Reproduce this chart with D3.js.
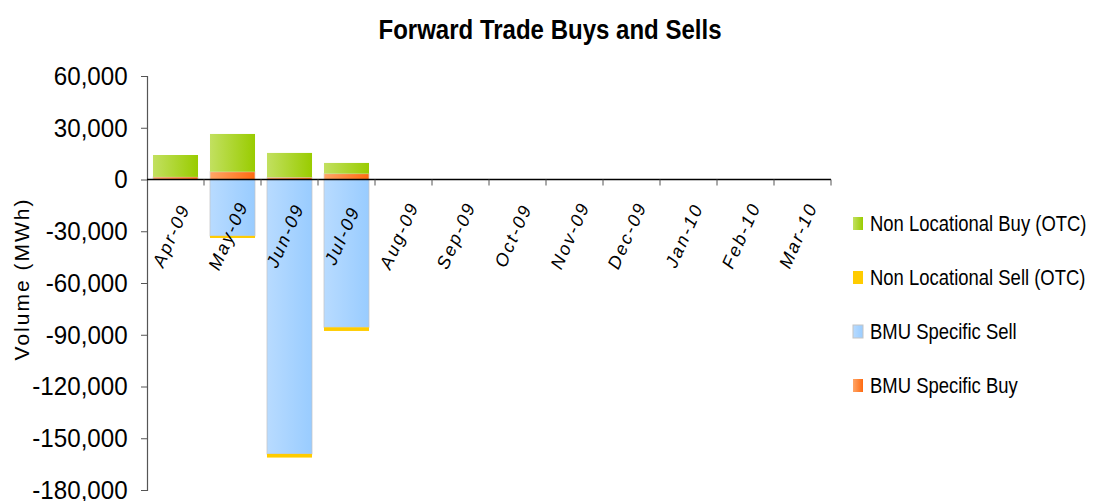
<!doctype html>
<html>
<head>
<meta charset="utf-8">
<style>
  body { margin: 0; background: #fff; }
  svg { font-family: "Liberation Sans Narrow", "Arial Narrow", "Liberation Sans", Arial, sans-serif; }
</style>
<script src="https://d3js.org/d3.v7.min.js"></script>
</head>
<body>
<div id="chart"></div>
<script>
var months = ['Apr-09','May-09','Jun-09','Jul-09','Aug-09','Sep-09','Oct-09','Nov-09','Dec-09','Jan-10','Feb-10','Mar-10']
// positive side, stacked from zero upward
var bmuBuy    = [1500, 4500, 1300, 3400, 0, 0, 0, 0, 0, 0, 0, 0]
var nonLocBuy = [12700, 21900, 14100, 6200, 0, 0, 0, 0, 0, 0, 0, 0]
// negative side, stacked from zero downward
var bmuSell    = [0, -32700, -159100, -85700, 0, 0, 0, 0, 0, 0, 0, 0]
var nonLocSell = [0, -1200, -2100, -2100, 0, 0, 0, 0, 0, 0, 0, 0]
var yTicks = [60000, 30000, 0, -30000, -60000, -90000, -120000, -150000, -180000]
var legendNames = ['Non Locational Buy (OTC)', 'Non Locational Sell (OTC)', 'BMU Specific Sell', 'BMU Specific Buy']

var W = 1094, H = 501
var svg = d3.select('#chart').append('svg').attr('width', W).attr('height', H)

var defs = svg.append('defs')
function grad(id, c1, c2) {
  var g = defs.append('linearGradient').attr('id', id).attr('x1', 0).attr('x2', 1).attr('y1', 0).attr('y2', 0)
  g.append('stop').attr('offset', '0%').attr('stop-color', c1)
  g.append('stop').attr('offset', '100%').attr('stop-color', c2)
}
grad('gGreen', '#c2e060', '#99cc00')
grad('gOrange', '#ffa566', '#ff6a10')
grad('gBlue', '#b8dbff', '#99ccff')
grad('gYellow', '#ffcc00', '#ffcc00')

var x = d3.scaleBand().domain(months).range([147, 831]).paddingInner(0.21).paddingOuter(0.105)
var xb = d3.scaleLinear().domain([0, months.length]).range([147, 831])
var y = d3.scaleLinear().domain([-180000, 60000]).range([490, 76])

// title (squeezed to look like a narrow face)
svg.append('text').attr('transform', 'translate(550,39) scale(0.89,1)').attr('text-anchor', 'middle')
  .attr('font-size', 27).attr('font-weight', 'bold')
  .text('Forward Trade Buys and Sells')

// y axis
var fmt = d3.format(',')
var yAxis = d3.axisLeft(y).tickValues(yTicks).tickSize(6)
  .tickFormat(function(d) { return fmt(d).replace('\u2212', '-') }).tickPadding(10)
var ya = svg.append('g').attr('transform', 'translate(147,0)').call(yAxis)
ya.select('.domain').attr('stroke', '#555').attr('stroke-width', 1.2)
ya.selectAll('.tick line').attr('stroke', '#555')
ya.selectAll('.tick text').attr('font-size', 26).attr('fill', '#000').attr('font-family', 'inherit')
  .attr('transform', 'translate(-10,0) scale(0.93,1)').attr('x', -10)

svg.append('text').attr('transform', 'translate(29,279) rotate(-90)').attr('text-anchor', 'middle')
  .attr('font-size', 21).attr('letter-spacing', 2)
  .text('Volume (MWh)')

// bars
function stackBars(lo, hi, fill, cls, stroke) {
  svg.append('g').selectAll('rect.' + cls).data(months).join('rect')
    .attr('class', cls)
    .attr('x', function(d) { return x(d) })
    .attr('width', x.bandwidth())
    .attr('y', function(d, i) { return y(Math.max(lo[i], hi[i])) })
    .attr('height', function(d, i) { return Math.abs(y(lo[i]) - y(hi[i])) })
    .attr('fill', fill)
    .attr('stroke', stroke || 'none')
    .attr('stroke-opacity', 0.7)
}
var zeros = months.map(function() { return 0 })
var buyTop = bmuBuy.map(function(v, i) { return v + nonLocBuy[i] })
var sellBottom = bmuSell.map(function(v, i) { return v + nonLocSell[i] })
stackBars(zeros, bmuSell, 'url(#gBlue)', 'sell', '#c4c4c4')
stackBars(bmuSell, sellBottom, 'url(#gYellow)', 'nsell')
stackBars(zeros, bmuBuy, 'url(#gOrange)', 'buy', '#d8d8d8')
stackBars(bmuBuy, buyTop, 'url(#gGreen)', 'nbuy')

// x axis line and ticks at band edges
svg.append('line').attr('x1', 147).attr('x2', 831).attr('y1', y(0)).attr('y2', y(0))
  .attr('stroke', '#000').attr('stroke-width', 1.5)
svg.append('g').selectAll('line').data(d3.range(1, months.length + 1)).join('line')
  .attr('x1', function(d) { return xb(d) }).attr('x2', function(d) { return xb(d) })
  .attr('y1', y(0)).attr('y2', y(0) + 6).attr('stroke', '#555')

svg.append('g').selectAll('text').data(months).join('text')
  .attr('transform', function(d) { return 'translate(' + (x(d) + x.bandwidth() / 2 - 3) + ',236) rotate(-66)' })
  .attr('text-anchor', 'middle').attr('dominant-baseline', 'middle')
  .attr('font-size', 18).attr('letter-spacing', 2.2).attr('font-style', 'italic')
  .text(function(d) { return d })

// legend
var legFills = ['url(#gGreen)', 'url(#gYellow)', 'url(#gBlue)', 'url(#gOrange)']
var lg = svg.append('g').selectAll('g').data(legendNames).join('g')
  .attr('transform', function(d, i) { return 'translate(853,' + (223 + i * 54) + ')' })
lg.append('rect').attr('x', 0).attr('y', -6).attr('width', 10).attr('height', 13)
  .attr('fill', function(d, i) { return legFills[i] })
  .attr('stroke', function(d, i) { return i == 2 ? '#c4c4c4' : 'none' })
lg.append('text').attr('transform', 'translate(17,8) scale(0.84,1)').attr('font-size', 22)
  .text(function(d) { return d })
</script>
</body>
</html>
